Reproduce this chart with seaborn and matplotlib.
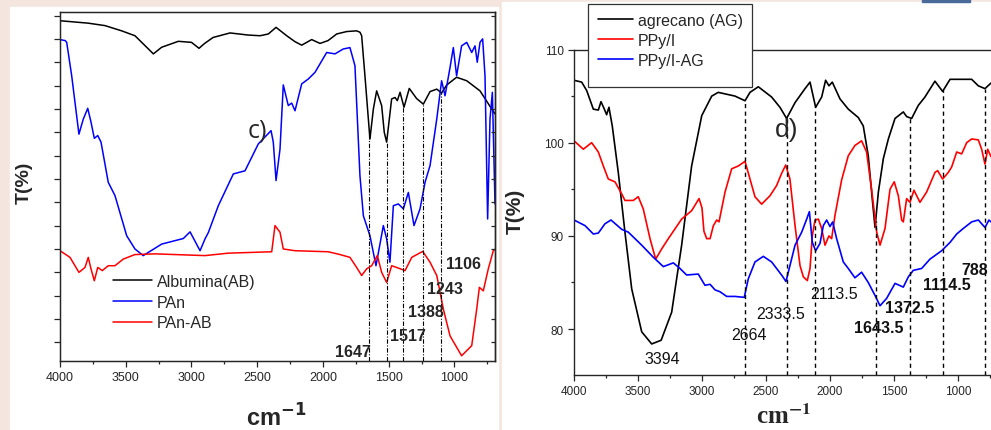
import numpy as np
import matplotlib
matplotlib.use("Agg")
import matplotlib.pyplot as plt
from matplotlib.patches import Rectangle
from matplotlib.ticker import MultipleLocator, FixedLocator
import seaborn as sns

sns.set_style("ticks")
plt.rcParams["font.family"] = ["Liberation Sans", "DejaVu Sans"]

# ---- panel c): Albumina / PAn / PAn-AB (transmittance, arbitrary scale 0-100)
ab_wn = [4000, 3785, 3658, 3531, 3430, 3341, 3290, 3227, 3100, 3000, 2943, 2900,
         2836, 2707, 2570, 2479, 2416, 2357, 2276, 2213, 2162, 2086, 2023, 1962,
         1896, 1820, 1744, 1719, 1706, 1681, 1655, 1643, 1617, 1592, 1554, 1534,
         1516, 1478, 1452, 1435, 1414, 1384, 1344, 1288, 1237, 1186, 1135, 1098,
         1059, 984, 907, 806, 717, 692]
ab_t = [97.5, 96.8, 96.1, 94.6, 93.2, 89.9, 88.0, 89.9, 91.6, 91.3, 89.6, 91.0,
        92.7, 94.0, 93.4, 93.2, 93.7, 95.6, 93.2, 91.5, 90.5, 92.1, 91.0, 91.8,
        93.7, 94.4, 94.6, 94.2, 93.2, 81.7, 69.3, 63.6, 72.2, 77.4, 73.2, 65.5,
        62.7, 75.1, 75.5, 74.6, 77.0, 72.7, 78.1, 75.2, 73.6, 77.2, 77.9, 76.8,
        79.1, 81.3, 80.3, 77.4, 72.2, 70.8]

pan_wn = [4000, 3960, 3949, 3911, 3856, 3823, 3789, 3764, 3739, 3713, 3688, 3633,
          3582, 3493, 3430, 3367, 3227, 3062, 3011, 2935, 2897, 2872, 2796, 2682,
          2593, 2492, 2395, 2378, 2357, 2327, 2302, 2264, 2238, 2213, 2162, 2112,
          2061, 1972, 1909, 1846, 1795, 1757, 1719, 1693, 1643, 1597, 1541, 1516,
          1491, 1465, 1427, 1389, 1351, 1308, 1262, 1224, 1186, 1135, 1098, 1072,
          1034, 1009, 984, 946, 907, 869, 844, 827, 806, 786, 768, 748, 730, 712,
          697, 692]
pan_t = [92.1, 91.8, 91.3, 81.7, 65.0, 69.3, 72.4, 68.4, 63.8, 64.6, 62.7, 51.2,
         47.4, 35.9, 32.1, 30.2, 33.5, 35.1, 37.0, 31.6, 35.0, 36.8, 44.5, 53.6,
         54.5, 62.2, 66.0, 62.7, 51.7, 60.7, 79.1, 73.2, 73.9, 71.7, 79.4, 80.8,
         82.7, 88.4, 88.0, 89.4, 89.8, 84.6, 53.1, 41.6, 35.9, 27.3, 38.8, 35.0,
         28.3, 44.5, 45.0, 43.6, 48.3, 38.8, 43.6, 51.2, 56.0, 69.3, 80.3, 76.0,
         84.1, 89.8, 81.7, 90.3, 91.3, 88.4, 90.3, 85.6, 91.3, 92.3, 81.7, 40.7,
         69.3, 77.0, 53.1, 45.0]

panab_wn = [4000, 3924, 3856, 3810, 3785, 3765, 3739, 3713, 3678, 3633, 3582, 3519,
            3430, 3278, 2897, 2720, 2390, 2365, 2327, 2302, 2213, 1960, 1871, 1795,
            1744, 1706, 1668, 1630, 1587, 1554, 1516, 1478, 1440, 1376, 1325, 1242,
            1186, 1135, 1085, 1034, 946, 869, 831, 811, 781, 743, 705, 692]
panab_t = [31.6, 29.7, 25.4, 26.8, 29.7, 26.5, 23.0, 26.8, 25.9, 27.3, 27.3, 29.2,
           30.5, 30.7, 30.2, 30.9, 31.3, 38.8, 36.9, 32.1, 31.6, 31.3, 30.5, 29.7,
           26.8, 24.5, 26.4, 27.3, 30.2, 25.4, 22.5, 27.3, 26.8, 25.9, 29.7, 31.4,
           28.3, 24.5, 14.9, 7.2, 1.5, 4.4, 14.9, 21.1, 20.1, 26.4, 31.6, 32.0]

left_peaks = [1647, 1517, 1388, 1243, 1106]

# ---- panel d): agrecano / PPy/I / PPy/I-AG (T %)
ag_wn = [4000, 3940, 3901, 3849, 3810, 3789, 3763, 3745, 3727, 3701, 3654, 3602,
         3549, 3471, 3393, 3319, 3237, 3159, 3081, 3002, 2924, 2873, 2742, 2664,
         2625, 2560, 2456, 2391, 2339, 2273, 2195, 2156, 2112, 2065, 2034, 2008,
         1982, 1922, 1857, 1779, 1740, 1701, 1670, 1648, 1622, 1583, 1544, 1492,
         1427, 1401, 1362, 1310, 1258, 1180, 1120, 1062, 893, 841, 789, 742]
ag_t = [106.7, 106.5, 105.6, 103.6, 103.5, 104.4, 103.6, 103.0, 103.8, 101.8, 96.8, 90.4,
        84.3, 79.7, 78.4, 78.8, 81.8, 89.0, 97.5, 102.9, 105.0, 105.4, 105.0, 104.5,
        105.4, 106.0, 104.9, 103.8, 102.6, 104.3, 105.8, 106.5, 103.8, 104.9, 106.7, 106.1,
        106.5, 104.7, 103.6, 102.7, 101.8, 98.6, 94.0, 90.9, 94.7, 98.3, 100.4, 102.6,
        103.3, 102.8, 102.6, 104.0, 104.9, 106.6, 105.5, 106.8, 106.8, 106.1, 105.8, 106.4]

ppy_wn = [4000, 3927, 3862, 3810, 3771, 3732, 3680, 3627, 3602, 3537, 3498, 3459,
          3406, 3362, 3315, 3263, 3159, 3081, 3023, 3000, 2985, 2963, 2937, 2911,
          2885, 2867, 2820, 2768, 2716, 2664, 2625, 2586, 2534, 2469, 2417, 2378,
          2346, 2313, 2273, 2234, 2208, 2177, 2156, 2138, 2117, 2091, 2065, 2039,
          2008, 1987, 1961, 1909, 1857, 1805, 1753, 1714, 1675, 1635, 1609, 1570,
          1531, 1498, 1466, 1440, 1427, 1401, 1375, 1344, 1297, 1245, 1180, 1159,
          1120, 1076, 1049, 1010, 971, 932, 893, 841, 815, 789, 768, 742]
ppy_t = [100.2, 99.3, 100.0, 99.0, 97.5, 96.1, 95.8, 94.5, 93.8, 93.8, 94.2, 92.9,
         89.7, 87.5, 88.6, 89.7, 91.8, 92.7, 94.0, 93.0, 90.5, 89.7, 89.7, 91.1,
         91.7, 91.5, 94.7, 97.2, 97.5, 98.0, 96.1, 94.2, 93.4, 94.3, 95.4, 96.7,
         97.6, 96.1, 91.1, 86.8, 85.6, 85.2, 86.5, 90.0, 91.7, 91.8, 90.8, 89.0,
         90.0, 89.7, 92.2, 96.0, 98.6, 99.7, 100.2, 99.0, 95.0, 90.4, 89.0, 90.8,
         95.0, 95.8, 94.3, 91.7, 91.5, 94.0, 93.6, 94.9, 93.6, 94.7, 96.8, 97.0,
         96.1, 96.8, 97.4, 99.0, 98.8, 100.0, 100.4, 100.3, 99.3, 97.7, 99.3, 98.5]

ppyag_wn = [4000, 3914, 3849, 3810, 3758, 3711, 3627, 3576, 3471, 3380, 3302, 3224,
            3172, 3120, 3029, 2977, 2937, 2898, 2859, 2807, 2742, 2670, 2638, 2586,
            2521, 2456, 2417, 2373, 2344, 2313, 2273, 2221, 2182, 2161, 2138, 2112,
            2078, 2052, 2026, 2000, 1979, 1948, 1896, 1857, 1805, 1753, 1701, 1648,
            1609, 1557, 1492, 1427, 1388, 1349, 1284, 1219, 1128, 1062, 1010, 958,
            893, 841, 789, 758, 742]
ppyag_t = [91.7, 91.1, 90.2, 90.3, 91.3, 91.7, 90.7, 90.4, 89.0, 87.7, 86.7, 87.1,
           86.5, 85.8, 85.9, 84.7, 84.8, 84.2, 84.0, 83.5, 83.5, 83.4, 85.4, 87.2,
           87.8, 87.2, 86.5, 85.7, 85.1, 86.8, 89.0, 90.4, 91.8, 92.6, 89.3, 88.4,
           89.2, 91.1, 91.7, 91.0, 91.5, 89.7, 87.2, 86.5, 85.5, 86.1, 85.0, 83.6,
           82.5, 83.3, 84.9, 84.5, 85.6, 86.3, 86.5, 87.5, 88.4, 89.3, 90.2, 90.8,
           91.5, 91.7, 90.9, 91.7, 91.5]

right_peaks = [2664, 2333.5, 2113.5, 1643.5, 1372.5, 1114.5, 788]

W, H = 991, 431


def fx(px):
    return px / W


def fy(py):
    return 1 - py / H


fig = plt.figure(figsize=(W / 100, H / 100), dpi=100, facecolor="#f4e6de")
# white "paper" behind each panel
fig.add_artist(Rectangle((fx(10), 0), fx(488), 1 - 8 / H, transform=fig.transFigure,
                         color="white", zorder=-2))
fig.add_artist(Rectangle((fx(502), 0), fx(489), 1 - 3 / H, transform=fig.transFigure,
                         color="white", zorder=-2))
fig.add_artist(Rectangle((fx(922), fy(3)), fx(48), 3 / H, transform=fig.transFigure,
                         color="#4a6a9a", zorder=-2))

# ================= left panel =================
axl = fig.add_axes([fx(60), fy(362), fx(435), 349 / H])
sns.lineplot(x=ab_wn, y=ab_t, color="black", lw=1.1, label="Albumina(AB)", ax=axl, sort=False)
sns.lineplot(x=pan_wn, y=pan_t, color="#0000ff", lw=1.1, label="PAn", ax=axl, sort=False)
sns.lineplot(x=panab_wn, y=panab_t, color="#ff0000", lw=1.1, label="PAn-AB", ax=axl, sort=False)
axl.set_xlim(4000, 692)
axl.set_ylim(0, 100)

ab_interp = lambda w: np.interp(w, ab_wn[::-1], ab_t[::-1])
for w in left_peaks:
    axl.vlines(w, 0, ab_interp(w), colors="black", lw=0.8,
               linestyles=(0, (4, 1.5, 1, 1.5)))

left_lab_pos = [(1776, 2.6), (1357, 7.4), (1221, 14.3), (1072, 20.9), (932, 27.8)]
for w, (lx, ly) in zip(left_peaks, left_lab_pos):
    axl.text(lx, ly, str(w), ha="center", va="center", fontsize=11.5, fontweight="bold")
axl.text(2502, 66.2, "c)", ha="center", va="center", fontsize=18, family="Open Sans")

axl.xaxis.set_major_locator(MultipleLocator(500))
axl.xaxis.set_minor_locator(MultipleLocator(250))
ytk = FixedLocator(np.arange(5.4, 100, 6.68))
axl.yaxis.set_major_locator(ytk)
axl.tick_params(axis="both", which="major", direction="out", length=4.5, width=0.9,
                labelsize=9, labelleft=False, pad=3)
axl.tick_params(axis="x", which="minor", direction="out", length=2.5, width=0.9)
axl.set_xticklabels([f"{int(v)}" for v in axl.get_xticks()])
for s in axl.spines.values():
    s.set_linewidth(1.0)
axl.set_xlabel("")
axl.set_ylabel("")
tw = axl.twinx()
tw.set_ylim(0, 100)
tw.yaxis.set_major_locator(FixedLocator(np.arange(5.4, 100, 6.68)))
tw.tick_params(axis="y", direction="in", length=3, width=0.9, labelright=False)
tw.spines["right"].set_linewidth(1.0)

handles, labels = axl.get_legend_handles_labels()
axl.legend(handles, labels, loc="upper left", bbox_to_anchor=(fx(113), fy(275)),
           bbox_transform=fig.transFigure, frameon=False, borderpad=0, borderaxespad=0,
           handlelength=2.45, handletextpad=0.3, labelspacing=0.36, fontsize=11.5)

fig.text(fx(24), fy(183), "T(%)", rotation=90, ha="center", va="center",
         fontsize=14, fontweight="bold")
fig.text(fx(276), fy(427), r"cm$^{\mathbf{-1}}$", ha="center", va="baseline",
         fontsize=17, fontweight="bold", math_fontfamily="dejavusans")

# ================= right panel =================
axr = fig.add_axes([fx(574), fy(375.7), fx(417), 325.2 / H])
sns.lineplot(x=ag_wn, y=ag_t, color="black", lw=1.2, label="agrecano (AG)", ax=axr, sort=False)
sns.lineplot(x=ppy_wn, y=ppy_t, color="#ff0000", lw=1.2, label="PPy/I", ax=axr, sort=False)
sns.lineplot(x=ppyag_wn, y=ppyag_t, color="#0000ff", lw=1.2, label="PPy/I-AG", ax=axr, sort=False)
axr.set_xlim(4000, 742)
axr.set_ylim(75.1, 110)

ag_interp = lambda w: np.interp(w, ag_wn[::-1], ag_t[::-1])
for w in right_peaks:
    axr.vlines(w, 75.1, ag_interp(w), colors="black", lw=1.0, linestyles=(0, (3, 2.5)))

right_labels = [("3394", 3309, 76.8, "normal", "center"),
                ("2664", 2633, 79.4, "normal", "center"),
                ("2333.5", 2383, 81.65, "normal", "center"),
                ("2113.5", 1969, 83.8, "normal", "center"),
                ("1643.5", 1617, 80.2, "bold", "center"),
                ("1372.5", 1377, 82.3, "bold", "center"),
                ("1114.5", 1088, 84.8, "bold", "center"),
                ("788", 975, 86.4, "bold", "left")]
for txt, lx, ly, wt, ha in right_labels:
    axr.text(lx, ly, txt, ha=ha, va="center", fontsize=11.5, fontweight=wt, color="#111111")
axr.text(2340, 101.5, "d)", ha="center", va="center", fontsize=19)

axr.xaxis.set_major_locator(MultipleLocator(500))
axr.xaxis.set_minor_locator(MultipleLocator(250))
axr.yaxis.set_major_locator(FixedLocator([80, 90, 100, 110]))
axr.yaxis.set_minor_locator(FixedLocator([85, 95, 105]))
axr.tick_params(axis="both", which="major", direction="out", length=4.5, width=0.9,
                labelsize=8.5, pad=3)
axr.tick_params(axis="both", which="minor", direction="out", length=2.5, width=0.9)
axr.set_xticklabels([f"{int(v)}" for v in axr.get_xticks()])
axr.spines["right"].set_visible(False)
for s in axr.spines.values():
    s.set_linewidth(1.0)
axr.set_xlabel("")
axr.set_ylabel("")
h2, l2 = axr.get_legend_handles_labels()
axr.get_legend().remove()

fig.add_artist(Rectangle((fx(588), fy(88)), fx(164), 83 / H, transform=fig.transFigure,
                         facecolor="white", edgecolor="#333333", lw=0.9, zorder=3))
fig.legend(h2, l2, loc="upper left", bbox_to_anchor=(fx(598), fy(14)),
           bbox_transform=fig.transFigure, frameon=False, borderpad=0, borderaxespad=0,
           handlelength=2.2, handletextpad=0.3, labelspacing=0.3, fontsize=11.5)

fig.text(fx(515), fy(211), "T(%)", rotation=90, ha="center", va="center",
         fontsize=15, fontweight="bold")
fig.text(fx(784), fy(424), r"cm$^{\mathbf{-1}}$", ha="center", va="baseline",
         fontsize=18, fontweight="bold", family="Liberation Serif", math_fontfamily="stix")

fig.savefig("out.png", dpi=100, facecolor=fig.get_facecolor())
